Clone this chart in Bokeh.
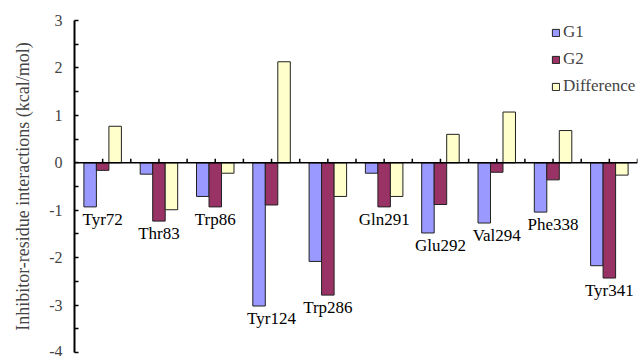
import math
from bokeh.plotting import figure
from bokeh.models import (LinearAxis, FixedTicker, Legend, LegendItem, ColumnDataSource,
                          Range1d, Span)
from bokeh.embed import file_html
from bokeh.resources import INLINE
from bokeh.core.properties import value

residues = ["Tyr72", "Thr83", "Trp86", "Tyr124", "Trp286",
            "Gln291", "Glu292", "Val294", "Phe338", "Tyr341"]
g1 = [-0.93, -0.24, -0.71, -3.02, -2.08, -0.22, -1.48, -1.27, -1.04, -2.17]
g2 = [-0.16, -1.23, -0.93, -0.89, -2.79, -0.93, -0.88, -0.20, -0.36, -2.43]
diff = [0.77, -0.99, -0.22, 2.13, -0.71, -0.71, 0.60, 1.07, 0.68, -0.26]
y_ticks = [-4, -3, -2, -1, 0, 1, 2, 3]
series_names = ["G1", "G2", "Difference"]
y_title = "Inhibitor-residue interactions (kcal/mol)"

FONT = "Liberation Serif"
colors = ["#9999FF", "#993366", "#FFFFCC"]
bw = 0.222
n = len(residues)

p = figure(width=643, height=356, output_backend="svg", toolbar_location=None,
           x_range=Range1d(0, n), y_range=Range1d(-4, 3),
           x_axis_location=None, y_axis_location=None,
           min_border_left=74, min_border_right=6, min_border_top=20, min_border_bottom=4)
p.xgrid.visible = False
p.ygrid.visible = False
p.outline_line_color = None
p.background_fill_color = "white"

renderers = []
for k, vals in enumerate([g1, g2, diff]):
    src = ColumnDataSource(dict(x=[i + 0.5 + (k - 1) * bw for i in range(n)], top=vals))
    r = p.vbar(x="x", top="top", bottom=0, width=bw, source=src,
               fill_color=colors[k], line_color="#222222", line_width=1)
    renderers.append(r)

# horizontal axis on the zero line, with upward ticks at category centres and boundaries
p.add_layout(Span(location=0, dimension="width", line_color="black", line_width=1.5))
tick_x = [i * 0.5 for i in range(1, 2 * n + 1)]
p.ray(x=tick_x, y=[0] * len(tick_x), length=4, length_units="screen",
      angle=math.pi / 2, line_color="black", line_width=1.5)

# category labels below the lowest bar
lab_src = ColumnDataSource(dict(x=[i + 0.5 for i in range(n)],
                                y=[min(a, b, c) for a, b, c in zip(g1, g2, diff)],
                                t=residues))
p.text(x="x", y="y", text="t", source=lab_src, text_align="center", text_baseline="top",
       y_offset=3, text_font=value(FONT), text_font_size="17px", text_color="black")

# y axis
minor = [t + 0.5 for t in y_ticks[:-1]]
yaxis = LinearAxis(ticker=FixedTicker(ticks=y_ticks, minor_ticks=minor),
                   axis_label=y_title,
                   axis_label_text_font=FONT, axis_label_text_font_size="18px",
                   axis_label_text_font_style="normal", axis_label_standoff=13,
                   major_label_text_font=FONT, major_label_text_font_size="16px",
                   major_label_overrides={t: str(t) for t in y_ticks},
                   major_label_standoff=12,
                   major_tick_in=4, major_tick_out=0, minor_tick_in=4, minor_tick_out=0,
                   axis_line_width=2, major_tick_line_width=1.5, minor_tick_line_width=1.5)
p.add_layout(yaxis, "left")

legend = Legend(items=[LegendItem(label=nm, renderers=[r]) for nm, r in zip(series_names, renderers)],
                location=(477, 256), glyph_width=9, glyph_height=9,
                label_text_font=FONT, label_text_font_size="17px", label_height=20,
                spacing=7, padding=0, margin=0, border_line_color=None,
                background_fill_alpha=0, label_standoff=3)
p.add_layout(legend)

open("out.html", "w").write(file_html(p, INLINE))
